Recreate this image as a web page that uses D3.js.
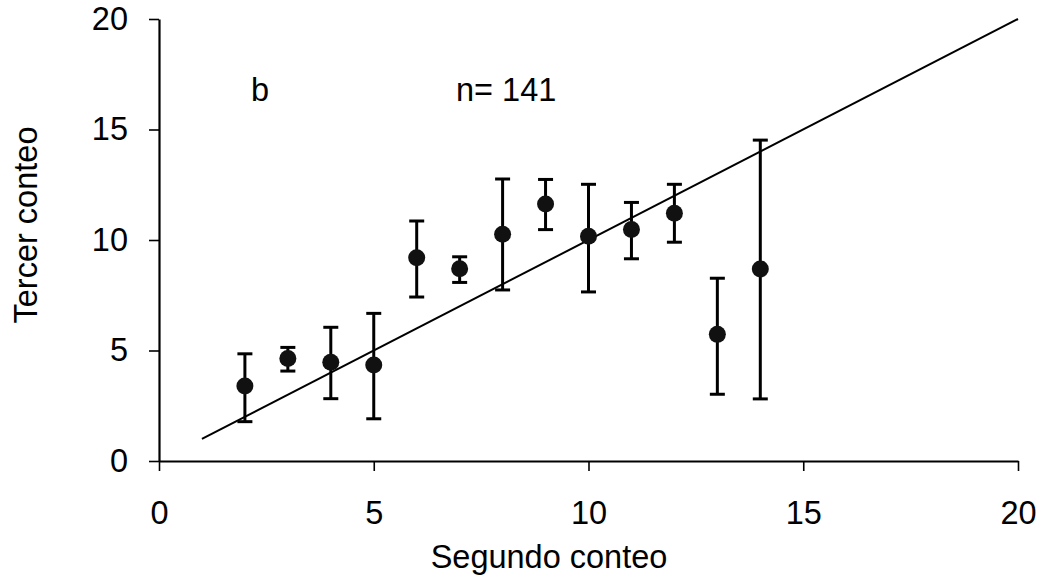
<!DOCTYPE html>
<html><head><meta charset="utf-8">
<script src="https://cdn.jsdelivr.net/npm/d3@7"></script>
<style>body{margin:0;background:#fff}svg{display:block}</style>
</head><body>
<script>
const xs   = [2, 3, 4, 5, 6, 7, 8, 9, 10, 11, 12, 13, 14];
const mean = [3.39, 4.64, 4.47, 4.34, 9.2, 8.7, 10.26, 11.63, 10.17, 10.47, 11.21, 5.73, 8.69];
const upper= [4.85, 5.14, 6.05, 6.68, 10.86, 9.24, 12.76, 12.74, 12.52, 11.7, 12.52, 8.27, 14.52];
const lower= [1.78, 4.07, 2.82, 1.91, 7.42, 8.08, 7.74, 10.47, 7.65, 9.15, 9.9, 3.02, 2.81];
const lineX = [1, 20];
const lineY = [1, 20];
const xTicks = [0, 5, 10, 15, 20];
const yTicks = [0, 5, 10, 15, 20];

const W = 1040, H = 581;
const svg = d3.select("body").append("svg").attr("width", W).attr("height", H);
const x = d3.scaleLinear().domain([0, 20]).range([159, 1018]);
const y = d3.scaleLinear().domain([0, 20]).range([461, 19]);
const font = "'Liberation Sans', Arial, sans-serif";
const fs = 32.5;

const xa = svg.append("g").attr("transform", `translate(0,${y(0)})`)
  .call(d3.axisBottom(x).tickValues(xTicks).tickSize(10).tickSizeOuter(0).tickPadding(30));
const ya = svg.append("g").attr("transform", `translate(${x(0)},0)`)
  .call(d3.axisLeft(y).tickValues(yTicks).tickSize(10).tickSizeOuter(0).tickPadding(21));
[xa, ya].forEach(a => {
  a.select(".domain").attr("stroke", "#000").attr("stroke-width", 2.2);
  a.selectAll(".tick line").attr("stroke", "#000").attr("stroke-width", 1.6);
  a.selectAll(".tick text").attr("font-family", font).attr("font-size", fs).attr("fill", "#000");
});

// identity line
svg.append("line")
  .attr("x1", x(lineX[0])).attr("y1", y(lineY[0]))
  .attr("x2", x(lineX[1])).attr("y2", y(lineY[1]))
  .attr("stroke", "#000").attr("stroke-width", 2);

const data = xs.map((v, i) => ({x: v, m: mean[i], u: upper[i], l: lower[i]}));
const g = svg.append("g");
const eb = g.selectAll("g.eb").data(data).enter().append("g");
eb.append("line").attr("x1", d => x(d.x)).attr("x2", d => x(d.x))
  .attr("y1", d => y(d.l)).attr("y2", d => y(d.u)).attr("stroke", "#000").attr("stroke-width", 3);
eb.append("line").attr("x1", d => x(d.x) - 7.5).attr("x2", d => x(d.x) + 7.5)
  .attr("y1", d => y(d.u)).attr("y2", d => y(d.u)).attr("stroke", "#000").attr("stroke-width", 3);
eb.append("line").attr("x1", d => x(d.x) - 7.5).attr("x2", d => x(d.x) + 7.5)
  .attr("y1", d => y(d.l)).attr("y2", d => y(d.l)).attr("stroke", "#000").attr("stroke-width", 3);
eb.append("circle").attr("cx", d => x(d.x)).attr("cy", d => y(d.m)).attr("r", 8.5).attr("fill", "#111");

svg.append("text").attr("x", 260).attr("y", 101).attr("text-anchor", "middle")
  .attr("font-family", font).attr("font-size", fs).text("b");
svg.append("text").attr("x", 456).attr("y", 101)
  .attr("font-family", font).attr("font-size", fs).text("n= 141");

svg.append("text").attr("x", 549).attr("y", 568).attr("text-anchor", "middle")
  .attr("font-family", font).attr("font-size", fs).text("Segundo conteo");
svg.append("text").attr("transform", `translate(37,225) rotate(-90)`).attr("text-anchor", "middle")
  .attr("font-family", font).attr("font-size", fs).text("Tercer conteo");
</script>
</body></html>
